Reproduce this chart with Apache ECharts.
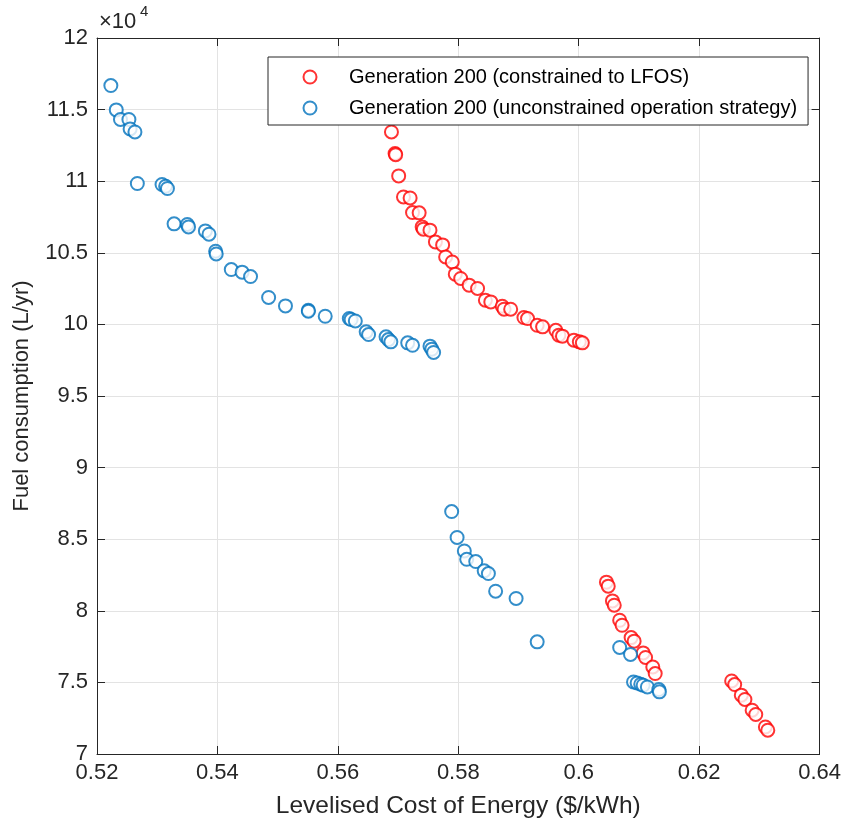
<!DOCTYPE html>
<html>
<head>
<meta charset="utf-8">
<script src="https://cdn.jsdelivr.net/npm/echarts@6/dist/echarts.min.js"></script>
<style>html,body{margin:0;padding:0;background:#fff}#c{width:844px;height:824px}</style>
</head>
<body>
<div id="c"></div>
<script>
// Levelised Cost of Energy ($/kWh)
const blueX = [0.5223,0.5232,0.5239,0.5253,0.5255,0.5263,0.5267,0.5308,0.5314,0.5317,
  0.5328,0.5350,0.5352,0.5380,0.5386,0.5397,0.5398,0.5423,0.5441,0.5455,
  0.5485,0.5513,0.5551,0.5551,0.5579,0.5619,0.5622,0.5629,0.5647,0.5651,
  0.5680,0.5684,0.5688,0.5716,0.5724,0.5753,0.5756,0.5759,
  0.5789,0.5798,0.5810,0.5814,0.5829,0.5843,0.5850,0.5862,0.5896,0.5931,
  0.6068,0.6086,0.6091,0.6097,0.6103,0.6107,0.6114,0.6133,0.6134];
// Fuel consumption (L/yr)
const blueY = [116680,114980,114310,114310,113650,113440,109840,109770,109650,109490,
  107020,106980,106810,106530,106300,105110,104920,103830,103650,103340,
  101880,101290,100990,100920,100570,100410,100340,100240,99480,99290,
  99130,98940,98780,98710,98540,98480,98270,98040,
  86930,85120,84180,83600,83440,82790,82600,81370,80860,77830,
  77440,76950,75030,74960,74870,74800,74680,74500,74340];
const redX = [0.5689,0.5695,0.5696,0.5701,0.5709,0.5720,0.5724,0.5735,0.5740,0.5742,
  0.5753,0.5762,0.5774,0.5779,0.5790,0.5795,0.5804,0.5818,0.5832,
  0.5845,0.5854,0.5873,0.5876,0.5887,0.5909,0.5915,0.5931,0.5940,0.5962,
  0.5967,0.5973,0.5992,0.6001,0.6006,
  0.6046,0.6049,0.6056,0.6059,0.6068,0.6072,0.6087,0.6092,0.6107,0.6111,0.6123,0.6127,
  0.6254,0.6259,0.6270,0.6276,0.6288,0.6294,0.6310,0.6314];
const redY = [113440,111930,111850,110370,108900,108830,107810,107790,106810,106650,
  106580,105760,105550,104710,104360,103510,103210,102740,102510,
  101690,101570,101270,101060,101060,100480,100410,99940,99830,99590,
  99250,99180,98900,98780,98710,
  82000,81720,80690,80390,79340,78990,78130,77880,77060,76740,76080,75620,
  75100,74850,74110,73810,73060,72760,71890,71660];
const seriesNames = ['Generation 200 (constrained to LFOS)', 'Generation 200 (unconstrained operation strategy)'];
const xTitle = 'Levelised Cost of Energy ($/kWh)';
const yTitle = 'Fuel consumption (L/yr)';

const FONT = '"Liberation Sans", Arial, Helvetica, sans-serif';
const AX = '#262626';
const chart = echarts.init(document.getElementById('c'), null, {renderer: 'canvas'});
const zip = (a, b) => a.map((v, i) => [v, b[i]]);
const grid = {left: 97, right: 23, top: 38, bottom: 70};
const commonX = {type: 'value', min: 0.52, max: 0.64, interval: 0.02};
const commonY = {type: 'value', min: 70000, max: 120000, interval: 5000};
chart.setOption({
  animation: false,
  backgroundColor: '#fff',
  grid: grid,
  legend: {
    orient: 'vertical', left: 268, top: 57,
    padding: [9, 11, 6, 34.5],
    borderColor: AX, borderWidth: 1, backgroundColor: '#fff',
    itemWidth: 68, itemHeight: 13, itemGap: 9,
    textStyle: {fontFamily: FONT, fontSize: 20, color: '#000', lineHeight: 22},
    data: [{name: seriesNames[0], icon: 'emptyCircle'}, {name: seriesNames[1], icon: 'emptyCircle'}]
  },
  xAxis: [
    Object.assign({}, commonX, {
      position: 'bottom',
      name: xTitle, nameLocation: 'middle', nameGap: 40,
      nameTextStyle: {fontFamily: FONT, fontSize: 24.5, color: AX},
      axisLine: {show: true, lineStyle: {color: AX, width: 1}},
      axisTick: {show: true, inside: true, length: 8, lineStyle: {color: AX}},
      axisLabel: {fontFamily: FONT, fontSize: 22, color: AX, margin: 8,
        formatter: v => String(+v.toFixed(2))},
      splitLine: {show: true, lineStyle: {color: '#e3e3e3', width: 1}}
    }),
    Object.assign({}, commonX, {
      position: 'top',
      axisLine: {show: true, lineStyle: {color: AX, width: 1}},
      axisTick: {show: true, inside: true, length: 8, lineStyle: {color: AX}},
      axisLabel: {show: false}, splitLine: {show: false}
    })
  ],
  yAxis: [
    Object.assign({}, commonY, {
      position: 'left',
      name: yTitle, nameLocation: 'middle', nameGap: 64,
      nameTextStyle: {fontFamily: FONT, fontSize: 22, color: AX},
      axisLine: {show: true, lineStyle: {color: AX, width: 1}},
      axisTick: {show: true, inside: true, length: 8, lineStyle: {color: AX}},
      axisLabel: {fontFamily: FONT, fontSize: 22, color: AX, margin: 9,
        formatter: v => String(+(v / 10000).toFixed(1))},
      splitLine: {show: true, lineStyle: {color: '#e3e3e3', width: 1}}
    }),
    Object.assign({}, commonY, {
      position: 'right',
      axisLine: {show: true, lineStyle: {color: AX, width: 1}},
      axisTick: {show: true, inside: true, length: 8, lineStyle: {color: AX}},
      axisLabel: {show: false}, splitLine: {show: false}
    })
  ],
  graphic: [
    {type: 'text', x: 99, y: 22, z: 10,
      style: {text: '×10', fontFamily: FONT, fontSize: 22, fill: AX, verticalAlign: 'middle', align: 'left'}},
    {type: 'text', x: 140, y: 12, z: 10,
      style: {text: '4', fontFamily: FONT, fontSize: 15, fill: AX, verticalAlign: 'middle', align: 'left'}}
  ],
  series: [
    {
      name: seriesNames[0], type: 'scatter', xAxisIndex: 0, yAxisIndex: 0,
      symbol: 'emptyCircle', symbolSize: 13,
      itemStyle: {color: '#ff0000', borderColor: '#ff0000', borderWidth: 1.2},
      data: zip(redX, redY)
    },
    {
      name: seriesNames[1], type: 'scatter', xAxisIndex: 0, yAxisIndex: 0,
      symbol: 'emptyCircle', symbolSize: 13,
      itemStyle: {color: '#0072bd', borderColor: '#0072bd', borderWidth: 1.2},
      data: zip(blueX, blueY)
    }
  ]
});
</script>
</body>
</html>
